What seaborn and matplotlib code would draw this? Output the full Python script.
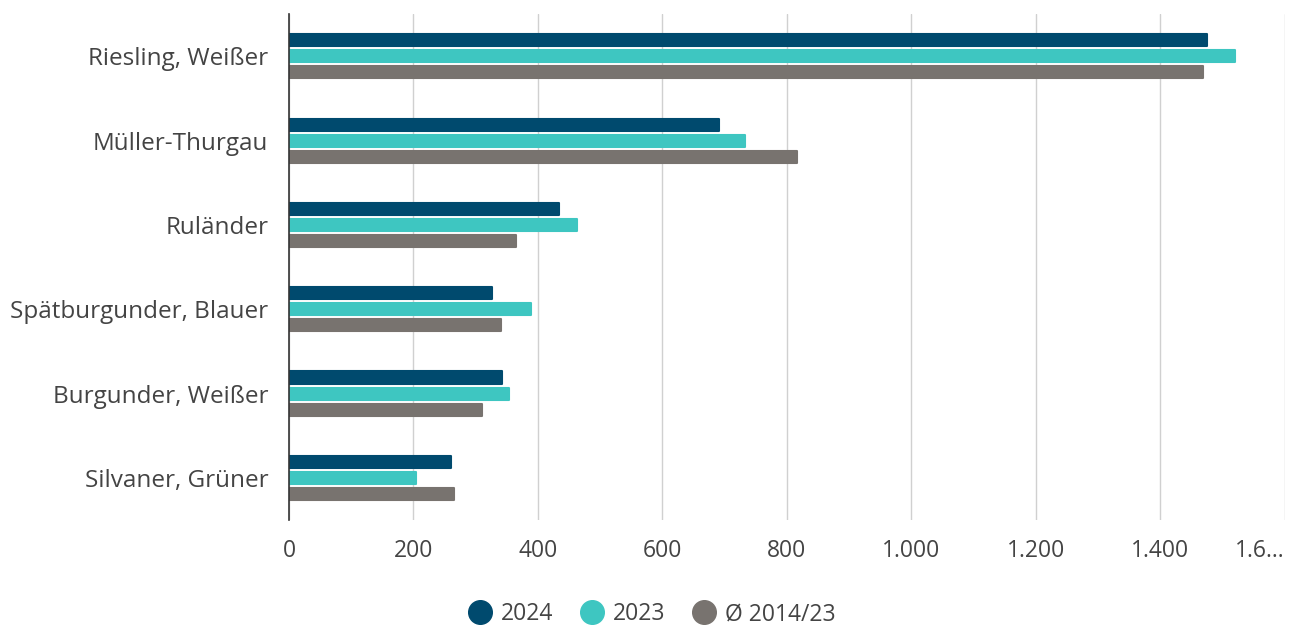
import matplotlib.pyplot as plt
from matplotlib.lines import Line2D
import pandas as pd
import seaborn as sns

sorten = ["Riesling, Weißer", "Müller-Thurgau", "Ruländer",
          "Spätburgunder, Blauer", "Burgunder, Weißer", "Silvaner, Grüner"]
werte_2024 = [1475, 690, 434, 326, 342, 260]
werte_2023 = [1519, 733, 463, 389, 354, 204]
werte_avg = [1469, 816, 365, 341, 310, 265]
serien = ["2024", "2023", "Ø 2014/23"]
farben = ["#004a6e", "#3ec6c1", "#78736f"]
x_ticks = [0, 200, 400, 600, 800, 1000, 1200, 1400, 1600]
x_labels = ["0", "200", "400", "600", "800", "1.000", "1.200", "1.400", "1.6..."]

df = pd.DataFrame({
    "Sorte": sorten * 3,
    "Wert": werte_2024 + werte_2023 + werte_avg,
    "Serie": [s for s in serien for _ in sorten],
})

sns.set_theme(style="white")
plt.rcParams['font.family'] = ['Open Sans', 'DejaVu Sans']

fig = plt.figure(figsize=(12.93, 6.28), dpi=100)
ax = fig.add_axes([0.2235, 0.172, 0.7703, 0.8055])

sns.barplot(data=df, y="Sorte", x="Wert", hue="Serie", order=sorten,
            hue_order=serien, palette=farben, width=0.57, gap=0.25,
            orient="h", legend=False, ax=ax, saturation=1)

# rounded bar ends
for p in ax.patches:
    p.set_edgecolor(p.get_facecolor())
    p.set_linewidth(1.5)
    p.set_joinstyle("round")

ax.set_xlim(0, 1600)
ax.set_ylim(5.5, -0.5)
ax.set_xticks(x_ticks)
ax.set_xticklabels(x_labels)
ax.set_xlabel("")
ax.set_ylabel("")
ax.xaxis.grid(True, color="#d0d0d0", linewidth=1)
ax.set_axisbelow(True)
for s in ["top", "right", "bottom"]:
    ax.spines[s].set_visible(False)
ax.spines["left"].set_color("#333333")
ax.spines["left"].set_linewidth(1.2)
ax.tick_params(axis="x", length=0, pad=14, labelsize=16.5, labelcolor="#444444")
ax.tick_params(axis="y", length=0, pad=15, labelsize=17.5, labelcolor="#444444")
ax.get_xticklabels()[-1].set_horizontalalignment("right")

handles = [Line2D([0], [0], marker="o", linestyle="", markersize=17,
                  markerfacecolor=c, markeredgecolor=c) for c in farben]
fig.legend(handles, serien, loc="center", bbox_to_anchor=(0.5, 0.022),
           ncol=3, frameon=False, fontsize=16.5, handletextpad=-0.1,
           columnspacing=0.7, labelcolor="#444444")

fig.savefig("out.png", dpi=100)
